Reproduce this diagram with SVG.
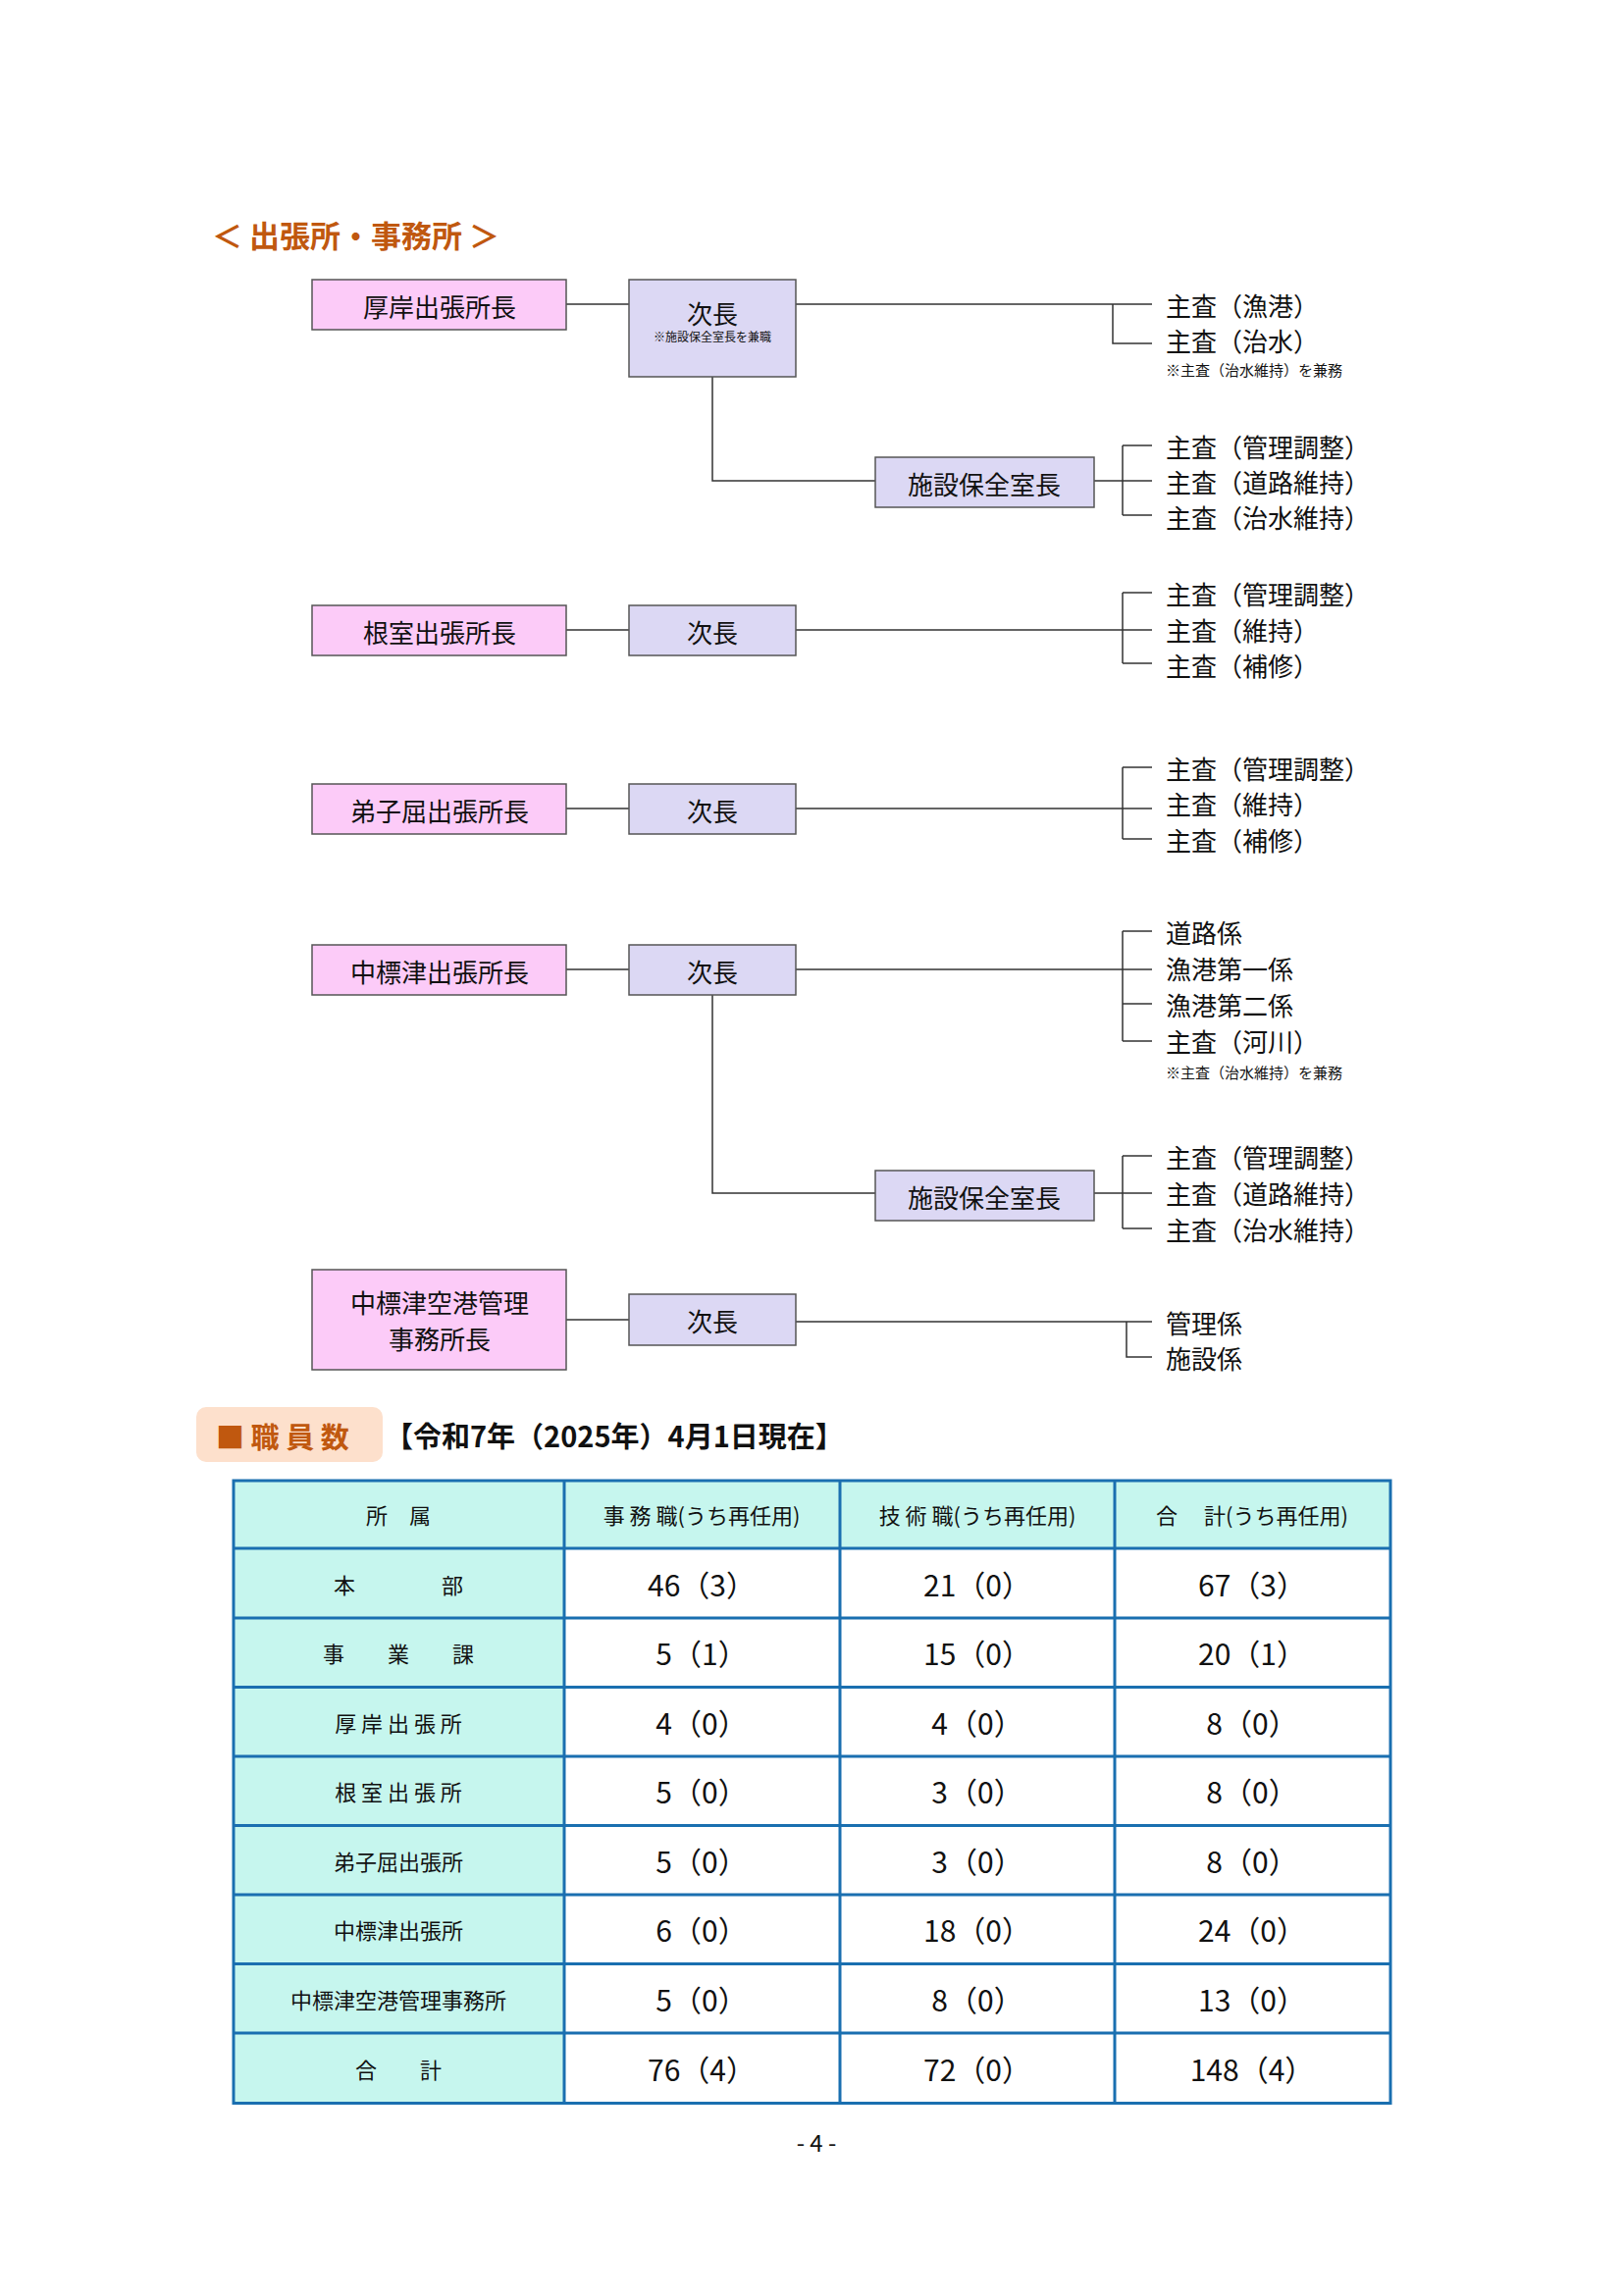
<svg xmlns="http://www.w3.org/2000/svg" width="1655" height="2340" viewBox="0 0 1655 2340">
<style>
text{font-family:"Noto Sans CJK JP","Noto Sans",sans-serif;fill:#111}
.pk{fill:#fccbf8;stroke:#555;stroke-width:1.5}
.lv{fill:#dcd8f4;stroke:#555;stroke-width:1.5}
.bl{font-size:26px;text-anchor:middle;dominant-baseline:central}
.it{font-size:26px;dominant-baseline:central}
.nt{font-size:15px;dominant-baseline:central}
.c{fill:none;stroke:#333;stroke-width:1.5}
.th{font-size:22px;text-anchor:middle;dominant-baseline:central}
.td{font-size:30px;text-anchor:middle;dominant-baseline:central}
.cy{fill:#c6f6ee}
.gl{stroke:#1a6fb0;stroke-width:3}
</style>
<rect width="1655" height="2340" fill="#fff"/>
<text x="216" y="238" font-size="31" font-weight="bold" style="fill:#c0580f" dominant-baseline="central">＜ 出張所・事務所 ＞</text>

<g id="connectors">
<path class="c" d="M577 310H641M811 310H1174M1134 310V350H1174"/>
<path class="c" d="M726 384V490H892M1115 490H1174M1144 454V525M1144 454H1174M1144 525H1174"/>
<path class="c" d="M577 642H641M811 642H1174M1144 604V676M1144 604H1174M1144 676H1174"/>
<path class="c" d="M577 824H641M811 824H1174M1144 782V855M1144 782H1174M1144 855H1174"/>
<path class="c" d="M577 988H641M811 988H1174M1144 949V1061M1144 949H1174M1144 1023H1174M1144 1061H1174"/>
<path class="c" d="M726 1014V1216H892M1115 1216H1174M1144 1178V1252M1144 1178H1174M1144 1252H1174"/>
<path class="c" d="M577 1345H641M811 1347H1174M1148 1347V1383H1174"/>
</g>

<g id="n1"><rect class="pk" x="318" y="285" width="259" height="51"/><text class="bl" x="448" y="311">厚岸出張所長</text></g>
<g id="n2"><rect class="lv" x="641" y="285" width="170" height="99"/><text class="bl" x="726" y="318">次長</text><text x="726" y="348" font-size="12" text-anchor="middle">※施設保全室長を兼職</text></g>
<g id="n3"><text class="it" x="1188" y="310">主査（漁港）</text><text class="it" x="1188" y="346">主査（治水）</text><text class="nt" x="1188" y="376">※主査（治水維持）を兼務</text></g>
<g id="n4"><rect class="lv" x="892" y="466" width="223" height="51"/><text class="bl" x="1003" y="492">施設保全室長</text></g>
<g id="n5"><text class="it" x="1188" y="454">主査（管理調整）</text><text class="it" x="1188" y="490">主査（道路維持）</text><text class="it" x="1188" y="526">主査（治水維持）</text></g>

<g id="n6"><rect class="pk" x="318" y="617" width="259" height="51"/><text class="bl" x="448" y="643">根室出張所長</text></g>
<g id="n7"><rect class="lv" x="641" y="617" width="170" height="51"/><text class="bl" x="726" y="643">次長</text></g>
<g id="n8"><text class="it" x="1188" y="604">主査（管理調整）</text><text class="it" x="1188" y="641">主査（維持）</text><text class="it" x="1188" y="677">主査（補修）</text></g>

<g id="n9"><rect class="pk" x="318" y="799" width="259" height="51"/><text class="bl" x="448" y="825">弟子屈出張所長</text></g>
<g id="n10"><rect class="lv" x="641" y="799" width="170" height="51"/><text class="bl" x="726" y="825">次長</text></g>
<g id="n11"><text class="it" x="1188" y="782">主査（管理調整）</text><text class="it" x="1188" y="818">主査（維持）</text><text class="it" x="1188" y="855">主査（補修）</text></g>

<g id="n12"><rect class="pk" x="318" y="963" width="259" height="51"/><text class="bl" x="448" y="989">中標津出張所長</text></g>
<g id="n13"><rect class="lv" x="641" y="963" width="170" height="51"/><text class="bl" x="726" y="989">次長</text></g>
<g id="n14"><text class="it" x="1188" y="949">道路係</text><text class="it" x="1188" y="986">漁港第一係</text><text class="it" x="1188" y="1023">漁港第二係</text><text class="it" x="1188" y="1060">主査（河川）</text><text class="nt" x="1188" y="1092">※主査（治水維持）を兼務</text></g>
<g id="n15"><rect class="lv" x="892" y="1193" width="223" height="51"/><text class="bl" x="1003" y="1219">施設保全室長</text></g>
<g id="n16"><text class="it" x="1188" y="1178">主査（管理調整）</text><text class="it" x="1188" y="1215">主査（道路維持）</text><text class="it" x="1188" y="1252">主査（治水維持）</text></g>

<g id="n17"><rect class="pk" x="318" y="1294" width="259" height="102"/><text class="bl" x="448" y="1326">中標津空港管理</text><text class="bl" x="448" y="1363">事務所長</text></g>
<g id="n18"><rect class="lv" x="641" y="1319" width="170" height="52"/><text class="bl" x="726" y="1345">次長</text></g>
<g id="n19"><text class="it" x="1188" y="1347">管理係</text><text class="it" x="1188" y="1383">施設係</text></g>

<g id="staff">
<rect x="200" y="1434" width="190" height="56" rx="10" fill="#fde0cc"/>
<text x="220" y="1463" font-size="29" font-weight="bold" style="fill:#c0580f" dominant-baseline="central">■ 職 員 数</text>
<text x="392" y="1462" font-size="29" font-weight="bold" dominant-baseline="central">【令和7年（2025年）4月1日現在】</text>
</g>

<g id="table">
<rect class="cy" x="238" y="1509" width="1179" height="69"/>
<rect class="cy" x="238" y="1578" width="337" height="566"/>
<rect x="238" y="1509" width="1179" height="634.5" fill="none" class="gl"/>
<path class="gl" d="M575 1509V2143.5M856 1509V2143.5M1136 1509V2143.5M238 1578H1417M238 1649H1417M238 1719.5H1417M238 1790H1417M238 1860.5H1417M238 1931H1417M238 2001.5H1417M238 2072H1417"/>
<text class="th" x="406" y="1543">所　属</text>
<text class="th" x="715" y="1543">事 務 職(うち再任用)</text>
<text class="th" x="996" y="1543">技 術 職(うち再任用)</text>
<text class="th" x="1276" y="1543">合　 計(うち再任用)</text>
<g class="th">
<text class="th" x="406" y="1614" xml:space="preserve">本　　　　部</text>
<text class="th" x="406" y="1684">事　　業　　課</text>
<text class="th" x="406" y="1755">厚 岸 出 張 所</text>
<text class="th" x="406" y="1825">根 室 出 張 所</text>
<text class="th" x="406" y="1896">弟子屈出張所</text>
<text class="th" x="406" y="1966">中標津出張所</text>
<text class="th" x="406" y="2037">中標津空港管理事務所</text>
<text class="th" x="406" y="2108">合　　計</text>
</g>
<text class="td" x="715" y="1614">46（3）</text><text class="td" x="996" y="1614">21（0）</text><text class="td" x="1276" y="1614">67（3）</text>
<text class="td" x="715" y="1684">5（1）</text><text class="td" x="996" y="1684">15（0）</text><text class="td" x="1276" y="1684">20（1）</text>
<text class="td" x="715" y="1755">4（0）</text><text class="td" x="996" y="1755">4（0）</text><text class="td" x="1276" y="1755">8（0）</text>
<text class="td" x="715" y="1825">5（0）</text><text class="td" x="996" y="1825">3（0）</text><text class="td" x="1276" y="1825">8（0）</text>
<text class="td" x="715" y="1896">5（0）</text><text class="td" x="996" y="1896">3（0）</text><text class="td" x="1276" y="1896">8（0）</text>
<text class="td" x="715" y="1966">6（0）</text><text class="td" x="996" y="1966">18（0）</text><text class="td" x="1276" y="1966">24（0）</text>
<text class="td" x="715" y="2037">5（0）</text><text class="td" x="996" y="2037">8（0）</text><text class="td" x="1276" y="2037">13（0）</text>
<text class="td" x="715" y="2108">76（4）</text><text class="td" x="996" y="2108">72（0）</text><text class="td" x="1276" y="2108">148（4）</text>
</g>
<text x="832" y="2182" font-size="24" text-anchor="middle" dominant-baseline="central">- 4 -</text>
</svg>
